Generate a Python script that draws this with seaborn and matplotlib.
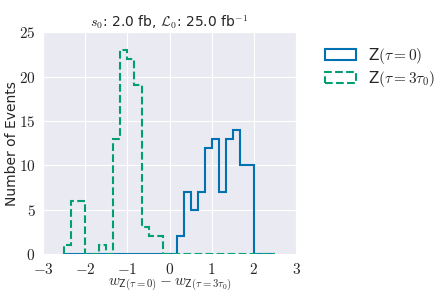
import numpy as np
import seaborn as sns

import matplotlib
matplotlib.use("Agg")  # headless mode (no GUI)

import matplotlib.pyplot as plt
from matplotlib.ticker import FuncFormatter

sns.set_style("darkgrid")
plt.rcParams["font.family"] = ["DejaVu Sans"]
plt.rcParams["mathtext.fontset"] = "cm"

# bin edges: 30 bins between -2.5 and 2.5
bin_lo, bin_hi, n_bins = -2.5, 2.5, 30

# counts per bin
counts_tau0 = [0, 0, 0, 0, 0, 0, 0, 0, 0, 0, 0, 0, 0, 0, 0, 0,
               2, 7, 5, 7, 12, 13, 7, 13, 14, 10, 10, 0, 0, 0]
counts_tau3 = [1, 6, 6, 0, 0, 1, 0, 13, 23, 22, 19, 3, 2, 2, 0, 0,
               0, 0, 0, 0, 0, 0, 0, 0, 0, 0, 0, 0, 0, 0]

label_tau0 = r"Z$(\tau = 0)$"
label_tau3 = r"Z$(\tau = 3\tau_0)$"

colors = sns.color_palette(["#0072B2", "#009E73"])
text_color = "#262626"

edges = np.linspace(bin_lo, bin_hi, n_bins + 1)
centers = 0.5 * (edges[:-1] + edges[1:])

fig = plt.figure(figsize=(4.36, 3.0), dpi=100)
ax = fig.add_axes([0.099, 0.153, 0.58, 0.74])

ax.hist(centers, bins=edges, weights=counts_tau0, histtype="step",
        color=colors[0], linewidth=1.5, label=label_tau0)
ax.hist(centers, bins=edges, weights=counts_tau3, histtype="step",
        color=colors[1], linewidth=1.5, linestyle="--", label=label_tau3)

ax.set_xlim(-3, 3)
ax.set_ylim(0, 25)
ax.set_xticks(range(-3, 4))
ax.set_yticks(range(0, 26, 5))
ax.xaxis.set_major_formatter(FuncFormatter(lambda v, p: f"${v:g}$"))
ax.yaxis.set_major_formatter(FuncFormatter(lambda v, p: f"${v:g}$"))
ax.tick_params(labelsize=11, pad=2, labelcolor=text_color)

ax.set_title(r"$s_0$: 2.0 fb, $\mathcal{L}_0$: 25.0 fb$^{-1}$",
             fontsize=10, pad=4, color=text_color)
ax.set_ylabel("Number of Events", fontsize=10, color=text_color)
ax.yaxis.set_label_coords(-0.095, 0.5)
ax.set_xlabel(r"$w_{\mathsf{Z}(\tau=0)} - w_{\mathsf{Z}(\tau=3\tau_0)}$",
              fontsize=11, labelpad=0, color=text_color)

leg = ax.legend(loc="upper left", bbox_to_anchor=(1.06, 1.0), frameon=False,
                fontsize=11, handlelength=2.0, labelspacing=0.2,
                handletextpad=0.8)
for t in leg.get_texts():
    t.set_color(text_color)

fig.savefig("out.png", dpi=100)
